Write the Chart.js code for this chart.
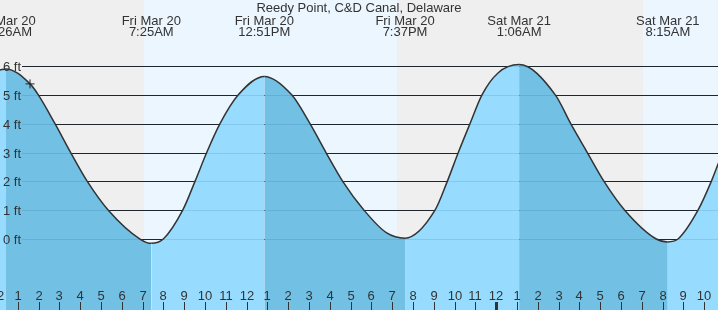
<!DOCTYPE html>
<html><head><meta charset="utf-8">
<script src="https://cdn.jsdelivr.net/npm/chart.js@4"></script>
<style>html,body{margin:0;padding:0;background:#fff;overflow:hidden}canvas{display:block}</style>
</head><body>
<canvas id="c" width="718" height="310"></canvas>
<script>
// ---- data (hours measured from Fri Mar 20 00:00) ----
const title = 'Reedy Point, C&D Canal, Delaware';
const curveHours = [0.14, 0.433, 1.587, 1.986, 2.788, 3.543, 4.341, 5.351, 6.875, 7.417, 7.995, 8.928, 9.519, 10.082, 10.721, 11.601, 12.85, 14.168, 15.048, 15.817, 16.62, 17.644, 18.736, 19.617, 21.058, 21.649, 22.178, 22.74, 23.317, 24.087, 25.1, 26.841, 27.582, 28.38, 29.183, 30.178, 31.697, 32.25, 32.74, 33.702, 34.341, 34.7];
const curveFeet  = [5.86, 5.90, 5.38, 5.0, 4.0, 3.0, 2.0, 1.0, 0.0, -0.15, 0.0, 1.0, 2.0, 3.0, 4.0, 5.0, 5.64, 5.0, 4.0, 3.0, 2.0, 1.0, 0.21, 0.03, 1.0, 2.0, 3.0, 4.0, 5.0, 5.76, 6.05, 5.0, 4.0, 3.0, 2.0, 1.0, 0.0, -0.1, 0.0, 1.0, 2.0, 2.66];
const extremeHours = [0.433, 7.417, 12.85, 19.617, 25.1, 32.25];
const extremeDates = ['Fri Mar 20', 'Fri Mar 20', 'Fri Mar 20', 'Fri Mar 20', 'Sat Mar 21', 'Sat Mar 21'];
const extremeTimes = ['12:26AM', '7:25AM', '12:51PM', '7:37PM', '1:06AM', '8:15AM'];
const markerHour = [1.587];
const markerFeet = [5.38];
const dayStart = [7.07, 31.06];
const dayEnd   = [19.23, 34.8];
const yTicks  = [0, 1, 2, 3, 4, 5, 6];
const yLabels = ['0 ft', '1 ft', '2 ft', '3 ft', '4 ft', '5 ft', '6 ft'];
const hourTicks  = [0,1,2,3,4,5,6,7,8,9,10,11,12,13,14,15,16,17,18,19,20,21,22,23,24,25,26,27,28,29,30,31,32,33,34];
const hourLabels = ['12','1','2','3','4','5','6','7','8','9','10','11','12','1','2','3','4','5','6','7','8','9','10','11','12','1','2','3','4','5','6','7','8','9','10'];

// ---- styles ----
const NIGHT = '#efefef', DAY = '#ebf6ff';
const FALL = '#72c0e4', RISE = '#97dcff';
const TEXT = '#333333';
const FONT = '13px "Liberation Sans", Arial, sans-serif';

const deco = {
  id: 'deco',
  beforeDraw(chart) {
    const {ctx, scales: {x}} = chart;
    ctx.save();
    ctx.fillStyle = NIGHT;
    ctx.fillRect(0, 0, chart.width, chart.height);
    ctx.fillStyle = DAY;
    for (let i = 0; i < dayStart.length; i++) {
      const a = Math.round(x.getPixelForValue(dayStart[i]));
      const b = Math.round(x.getPixelForValue(dayEnd[i]));
      ctx.fillRect(a, 0, b - a, chart.height);
    }
    ctx.restore();
  },
  beforeDatasetsDraw(chart) {
    const {ctx, scales: {y}} = chart;
    ctx.save();
    ctx.strokeStyle = '#222';
    ctx.lineWidth = 1;
    for (const v of yTicks) {
      const py = Math.round(y.getPixelForValue(v)) + 0.5;
      ctx.beginPath(); ctx.moveTo(22, py); ctx.lineTo(chart.width, py); ctx.stroke();
    }
    ctx.restore();
  },
  afterDatasetsDraw(chart) {
    const {ctx, scales: {x, y}} = chart;
    ctx.save();
    // faint lines visible through water
    ctx.strokeStyle = 'rgba(0,70,130,0.13)';
    ctx.lineWidth = 1;
    for (const v of yTicks) {
      const py = Math.round(y.getPixelForValue(v)) + 0.5;
      ctx.beginPath(); ctx.moveTo(22, py); ctx.lineTo(chart.width, py); ctx.stroke();
    }
    ctx.font = FONT;
    ctx.fillStyle = TEXT;
    // y labels
    ctx.textAlign = 'right';
    ctx.textBaseline = 'alphabetic';
    yTicks.forEach((v, i) => {
      const py = Math.round(y.getPixelForValue(v));
      ctx.fillText(yLabels[i], 21, py + 4.5);
    });
    // hour labels & ticks
    ctx.textAlign = 'center';
    hourTicks.forEach((h, i) => {
      const px = Math.round(x.getPixelForValue(h));
      ctx.fillText(hourLabels[i], px, 300);
      if (h % 24 === 0) ctx.fillRect(px - 1, 302, 3, 8);
      else ctx.fillRect(px, 302, 1, 8);
    });
    // extremes labels
    extremeHours.forEach((h, i) => {
      const px = x.getPixelForValue(h);
      ctx.fillText(extremeDates[i], px, 24.5);
      ctx.fillText(extremeTimes[i], px, 35.5);
    });
    // title
    ctx.fillText(title, chart.width / 2, 12);
    ctx.restore();
  }
};

new Chart(document.getElementById('c'), {
  type: 'line',
  data: {
    datasets: [
      {
        label: 'now',
        data: markerHour.map((h, i) => ({x: h, y: markerFeet[i]})),
        showLine: false,
        pointStyle: 'cross',
        pointRadius: 4.5,
        pointBorderColor: '#222',
        pointBorderWidth: 1,
        order: 0
      },
      {
        label: 'tide',
        data: curveHours.map((h, i) => ({x: h, y: curveFeet[i]})),
        borderColor: '#333',
        borderWidth: 1.5,
        pointRadius: 0,
        cubicInterpolationMode: 'monotone',
        fill: 'start',
        backgroundColor: FALL,
        segment: {
          backgroundColor: c => (c.p1.parsed.y < c.p0.parsed.y ? FALL : RISE)
        },
        order: 1
      }
    ]
  },
  options: {
    responsive: false,
    animation: false,
    devicePixelRatio: 1,
    layout: {padding: 0, autoPadding: false},
    plugins: {legend: {display: false}, tooltip: {enabled: false}, title: {display: false}},
    events: [],
    scales: {
      x: {type: 'linear', min: 0.144, max: 34.663, display: false},
      y: {type: 'linear', min: -2.462, max: 8.29, display: false}
    }
  },
  plugins: [deco]
});
</script>
</body></html>
